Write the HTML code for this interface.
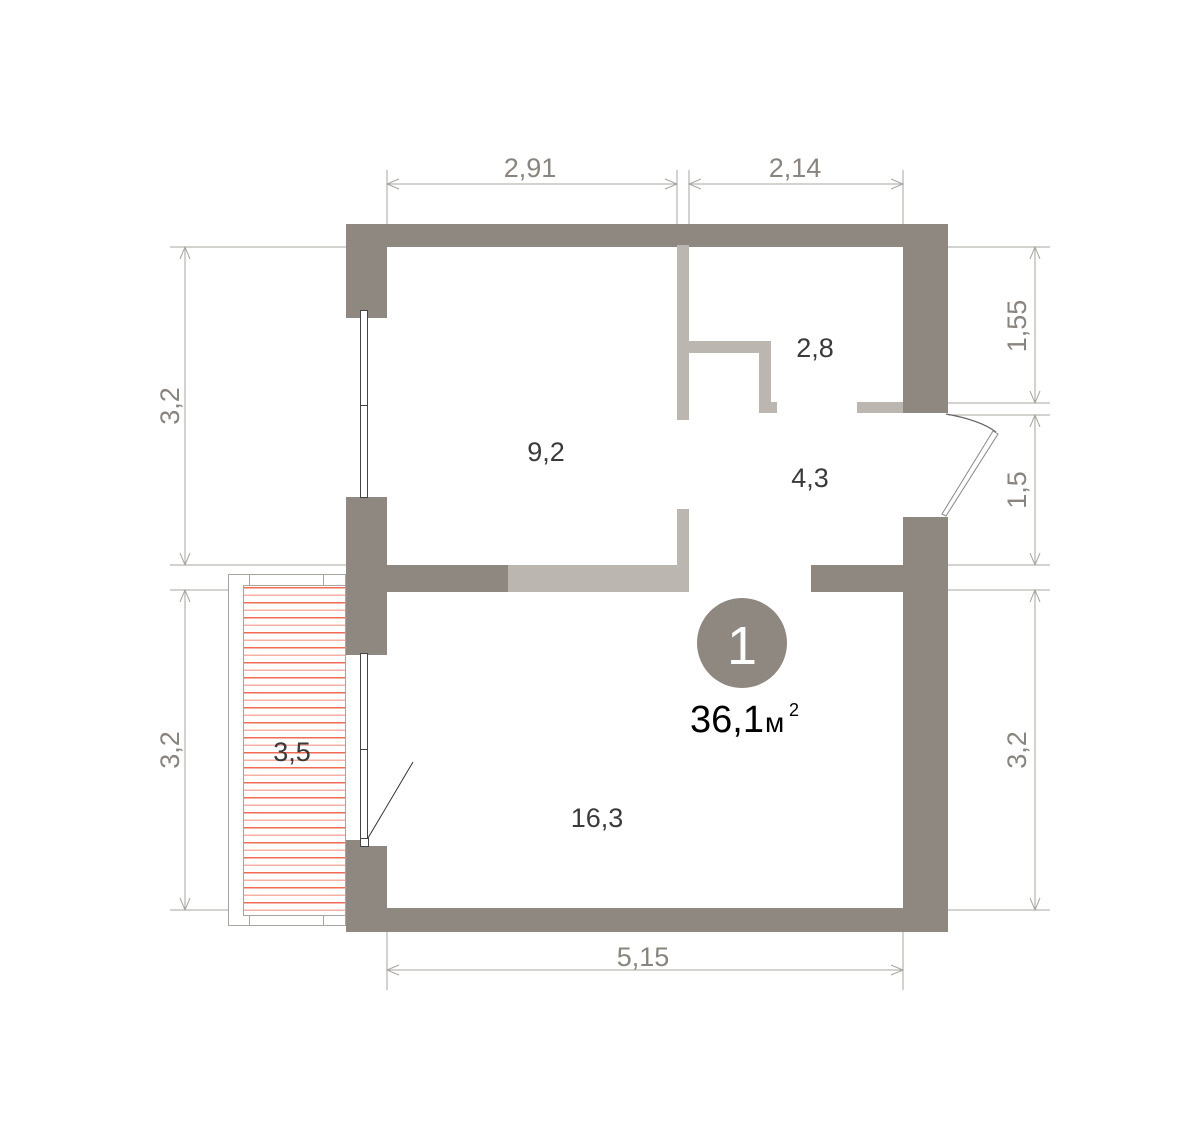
<!DOCTYPE html>
<html><head><style>body{margin:0;background:#fff}svg{display:block}</style></head><body>
<svg width="1200" height="1140" viewBox="0 0 1200 1140" xmlns="http://www.w3.org/2000/svg" font-family="Liberation Sans, sans-serif">
<defs>
<pattern id="h" x="0" y="585" width="10" height="15" patternUnits="userSpaceOnUse">
<rect x="0" y="2" width="10" height="1.5" fill="#f26b55"/>
<rect x="0" y="9.5" width="10" height="1.5" fill="#f7b0a5"/>
</pattern>
</defs>
<g stroke="#aaa49e" stroke-width="1" fill="none">
<line x1="387" y1="170" x2="387" y2="224"/><line x1="677" y1="170" x2="677" y2="224"/>
<line x1="689" y1="170" x2="689" y2="224"/><line x1="903" y1="170" x2="903" y2="224"/>
<line x1="387" y1="184" x2="677" y2="184"/><line x1="689" y1="184" x2="903" y2="184"/>
<line x1="170" y1="247" x2="346" y2="247"/><line x1="170" y1="565" x2="346" y2="565"/>
<line x1="170" y1="590" x2="228" y2="590"/><line x1="170" y1="910" x2="228" y2="910"/>
<line x1="185" y1="247" x2="185" y2="565"/><line x1="185" y1="590" x2="185" y2="910"/>
<line x1="948" y1="247" x2="1050" y2="247"/><line x1="948" y1="403" x2="1050" y2="403"/>
<line x1="948" y1="415" x2="1050" y2="415"/><line x1="948" y1="565" x2="1050" y2="565"/>
<line x1="948" y1="590" x2="1050" y2="590"/><line x1="948" y1="910" x2="1050" y2="910"/>
<line x1="1035" y1="247" x2="1035" y2="403"/><line x1="1035" y1="415" x2="1035" y2="565"/>
<line x1="1035" y1="590" x2="1035" y2="910"/>
<line x1="387" y1="932" x2="387" y2="990"/><line x1="903" y1="932" x2="903" y2="990"/>
<line x1="387" y1="970" x2="903" y2="970"/>
<path d="M399 179 L387 184 L399 189 M665 179 L677 184 L665 189 M701 179 L689 184 L701 189 M891 179 L903 184 L891 189"/>
<path d="M180 259 L185 247 L190 259 M180 553 L185 565 L190 553 M180 602 L185 590 L190 602 M180 898 L185 910 L190 898"/>
<path d="M1030 259 L1035 247 L1040 259 M1030 391 L1035 403 L1040 391 M1030 427 L1035 415 L1040 427 M1030 553 L1035 565 L1040 553 M1030 602 L1035 590 L1040 602 M1030 898 L1035 910 L1040 898"/>
<path d="M399 965 L387 970 L399 975 M891 965 L903 970 L891 975"/>
</g>
<g fill="#8a847e" font-size="27" text-anchor="middle">
<text x="530" y="177">2,91</text><text x="795" y="177">2,14</text>
<text x="643" y="966">5,15</text>
<text transform="translate(179,406) rotate(-90)">3,2</text>
<text transform="translate(179,750) rotate(-90)">3,2</text>
<text transform="translate(1026,326) rotate(-90)">1,55</text>
<text transform="translate(1026,490) rotate(-90)">1,5</text>
<text transform="translate(1026,750) rotate(-90)">3,2</text>
</g>
<rect x="228.5" y="574.5" width="117" height="351" fill="#fff" stroke="#aaa49e"/>
<rect x="243.5" y="585.5" width="102" height="330" fill="url(#h)" stroke="#aaa49e"/>
<rect x="249.5" y="574.5" width="74" height="11" fill="none" stroke="#aaa49e"/>
<rect x="249.5" y="915.5" width="74" height="10" fill="none" stroke="#aaa49e"/>
<g fill="#8f8880">
<rect x="346" y="224" width="602" height="23"/>
<rect x="346" y="224" width="41" height="94"/>
<rect x="346" y="497" width="41" height="158"/>
<rect x="346" y="840" width="17" height="92"/>
<rect x="346" y="846" width="41" height="86"/>
<rect x="903" y="224" width="45" height="189"/>
<rect x="903" y="517" width="45" height="415"/>
<rect x="346" y="908" width="602" height="24"/>
<rect x="387" y="565" width="121" height="27"/>
<rect x="811" y="565" width="92" height="27"/>
</g>
<g fill="#bbb6b0">
<rect x="508" y="565" width="181" height="27"/>
<rect x="677" y="245" width="12" height="175"/>
<rect x="677" y="509" width="12" height="83"/>
<rect x="689" y="341" width="82" height="12"/>
<rect x="759" y="341" width="12" height="72"/>
<rect x="759" y="402" width="18" height="11"/>
<rect x="857" y="402" width="46" height="11"/>
</g>
<g fill="#fff" stroke="#444" stroke-width="1">
<rect x="360.5" y="310.5" width="7" height="95"/>
<rect x="360.5" y="405.5" width="7" height="92"/>
<rect x="360.5" y="653.5" width="7" height="96"/>
<rect x="360.5" y="749.5" width="7" height="92"/>
<rect x="360.5" y="838.5" width="8" height="8"/>
</g>
<line x1="368" y1="838" x2="413" y2="762" stroke="#333" stroke-width="1"/>
<path d="M946 414 Q980 420 996 432" fill="none" stroke="#666" stroke-width="1.2"/>
<path d="M942 514 L993 431 L998 434 L946 516 Z" fill="#fff" stroke="#888" stroke-width="1"/>
<g fill="#3a3a3a" font-size="27" text-anchor="middle">
<text x="546" y="461">9,2</text><text x="815" y="357">2,8</text>
<text x="810" y="487">4,3</text><text x="597" y="827">16,3</text>
<text x="292" y="761">3,5</text>
</g>
<circle cx="742" cy="643" r="45" fill="#8f8880"/>
<text x="742" y="664" fill="#fff" font-size="54" text-anchor="middle">1</text>
<text x="690" y="732" fill="#000" font-size="38">36,1</text>
<text x="765" y="732" fill="#000" font-size="28">м</text>
<text x="789" y="716" fill="#000" font-size="18">2</text>
</svg>
</body></html>
